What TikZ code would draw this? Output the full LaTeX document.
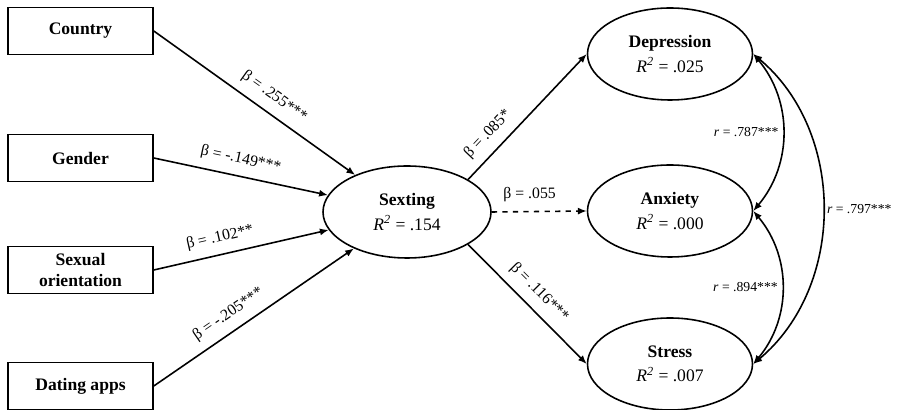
\documentclass[tikz,border=0pt]{standalone}
\usepackage{fontspec}
\setmainfont{Liberation Serif}
\usetikzlibrary{arrows.meta,shapes.geometric}

\newcommand{\rsq}{\textit{R\textsuperscript{2}}}

\begin{document}
\begin{tikzpicture}[
  varbox/.style={draw, line width=0.9pt, minimum width=2.9cm, minimum height=0.94cm,
    align=center, font=\bfseries, inner sep=1pt},
  latent/.style={draw, ellipse, line width=0.9pt, minimum width=3.3cm, minimum height=1.84cm,
    align=center, inner sep=0pt},
  reg/.style={-{Latex[length=5pt,width=4pt]}, line width=0.9pt},
  cov/.style={{Latex[length=5pt,width=4pt]}-{Latex[length=5pt,width=4pt]}, line width=0.9pt},
  coef/.style={font=\fontsize{9}{10}\selectfont, sloped, above=3pt, inner sep=2pt},
  rcoef/.style={font=\fontsize{7.8}{9}\selectfont, inner sep=2pt}
]
\useasboundingbox (0,0) rectangle (17.94,8.2);

% predictors
\node[varbox] (country) at (1.61,7.58) {Country};
\node[varbox] (gender)  at (1.61,5.04) {Gender};
\node[varbox] (sexor)   at (1.61,2.80) {Sexual\\orientation};
\node[varbox] (apps)    at (1.61,0.48) {Dating apps};

% mediator and outcomes
\node[latent, minimum width=3.36cm] (sexting) at (8.14,3.96)
  {{\bfseries Sexting}\\[2pt]\rsq{} = .154};
\node[latent] (depr) at (13.4,7.12) {{\bfseries Depression}\\[2pt]\rsq{} = .025};
\node[latent] (anx)  at (13.4,3.98) {{\bfseries Anxiety}\\[2pt]\rsq{} = .000};
\node[latent] (str)  at (13.4,0.92) {{\bfseries Stress}\\[2pt]\rsq{} = .007};

% paths
\draw[reg] (country.east) -- (sexting) node[coef, pos=0.55] {β = .255***};
\draw[reg] (gender.east)  -- (sexting) node[coef, pos=0.48] {β = -.149***};
\draw[reg] (sexor.east)   -- (sexting) node[coef, pos=0.40] {β = .102**};
\draw[reg] (apps.east)    -- (sexting) node[coef, pos=0.42] {β = -.205***};

\draw[reg] (sexting.28)  -- (depr.west) node[coef, pos=0.27] {β = .085*};
\draw[reg, dashed] (sexting.east) -- (anx.west) node[coef, pos=0.40] {β = .055};
\draw[reg] (sexting.-28) -- (str.west) node[coef, pos=0.50] {β = .116***};

% correlations
\draw[cov] (depr.east) to[bend left=40]
  node[rcoef, midway, left] {\textit{r} = .787***} (anx.east);
\draw[cov] (anx.east) to[bend left=40]
  node[rcoef, midway, left] {\textit{r} = .894***} (str.east);
\draw[cov] (depr.east) to[bend left=50]
  node[rcoef, midway, right] {\textit{r} = .797***} (str.east);

\end{tikzpicture}
\end{document}
